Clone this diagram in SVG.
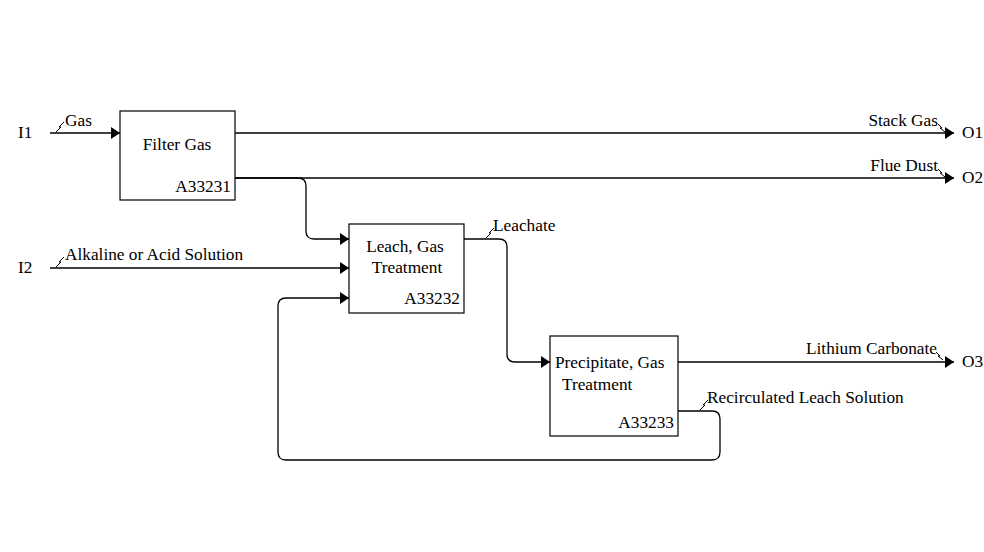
<svg xmlns="http://www.w3.org/2000/svg" width="984" height="552" viewBox="0 0 984 552">
<defs>
<marker id="ah" viewBox="0 0 9 12" refX="9" refY="6" markerWidth="9" markerHeight="12" markerUnits="userSpaceOnUse" orient="auto">
<path d="M0,0 L9,6 L0,12 Z" fill="#000"/>
</marker>
</defs>
<style>
text{font-family:"Liberation Serif","Times New Roman",serif;font-size:17.3px;fill:#000}
.box{fill:#fff;stroke:#000;stroke-width:1.2}
.c{fill:none;stroke:#000;stroke-width:1.3}
.sq{fill:none;stroke:#000;stroke-width:1}
.e{text-anchor:end}
.m{text-anchor:middle}
</style>
<rect width="984" height="552" fill="#fff"/>
<g id="connectors">
<path class="c" d="M50,133 H120" marker-end="url(#ah)"/>
<path class="c" d="M235,133 H954" marker-end="url(#ah)"/>
<path class="c" d="M235,178 H954" marker-end="url(#ah)"/>
<path class="c" d="M235,178 H298 Q306,178 306,186 V231 Q306,239 314,239 H349" marker-end="url(#ah)"/>
<path class="c" d="M50,268 H349" marker-end="url(#ah)"/>
<path class="c" d="M678,411 H712 Q720,411 720,419 V452 Q720,460 712,460 H286 Q278,460 278,452 V306 Q278,298 286,298 H349" marker-end="url(#ah)"/>
<path class="c" d="M464,239 H499 Q507,239 507,247 V354 Q507,362 515,362 H550" marker-end="url(#ah)"/>
<path class="c" d="M678,362 H954" marker-end="url(#ah)"/>
<path class="sq" d="M56,132 L61,127 L59,127 L64,122"/>
<path class="sq" d="M56,267 L61,262 L59,262 L64,257"/>
<path class="sq" d="M486,238 L491,233 L489,233 L494,228"/>
<path class="sq" d="M700,410 L705,405 L703,405 L708,400"/>
<path class="sq" d="M938,124 L942,128 L940,128 L945,132"/>
<path class="sq" d="M938,169 L942,173 L940,173 L945,177"/>
<path class="sq" d="M936,352 L940,356 L938,356 L943,360"/>
</g>
<g id="A33231">
<rect class="box" x="120" y="111" width="115" height="89"/>
<text x="177" y="150" class="m">Filter Gas</text>
<text x="231" y="192" class="e">A33231</text>
</g>
<g id="A33232">
<rect class="box" x="349" y="224" width="115" height="89"/>
<text x="405" y="252" class="m">Leach, Gas</text>
<text x="407" y="273" class="m">Treatment</text>
<text x="460" y="304" class="e">A33232</text>
</g>
<g id="A33233">
<rect class="box" x="550" y="336" width="128" height="100"/>
<text x="555" y="368">Precipitate, Gas</text>
<text x="562" y="390">Treatment</text>
<text x="674" y="428" class="e">A33233</text>
</g>
<g id="labels">
<text x="18" y="138">I1</text>
<text x="18" y="273">I2</text>
<text x="962" y="138">O1</text>
<text x="962" y="183">O2</text>
<text x="962" y="367">O3</text>
<text x="65" y="126">Gas</text>
<text x="65" y="260">Alkaline or Acid Solution</text>
<text x="493" y="231">Leachate</text>
<text x="707" y="403">Recirculated Leach Solution</text>
<text x="938" y="126" class="e">Stack Gas</text>
<text x="938" y="171" class="e">Flue Dust</text>
<text x="937" y="354" class="e">Lithium Carbonate</text>
</g>
</svg>
